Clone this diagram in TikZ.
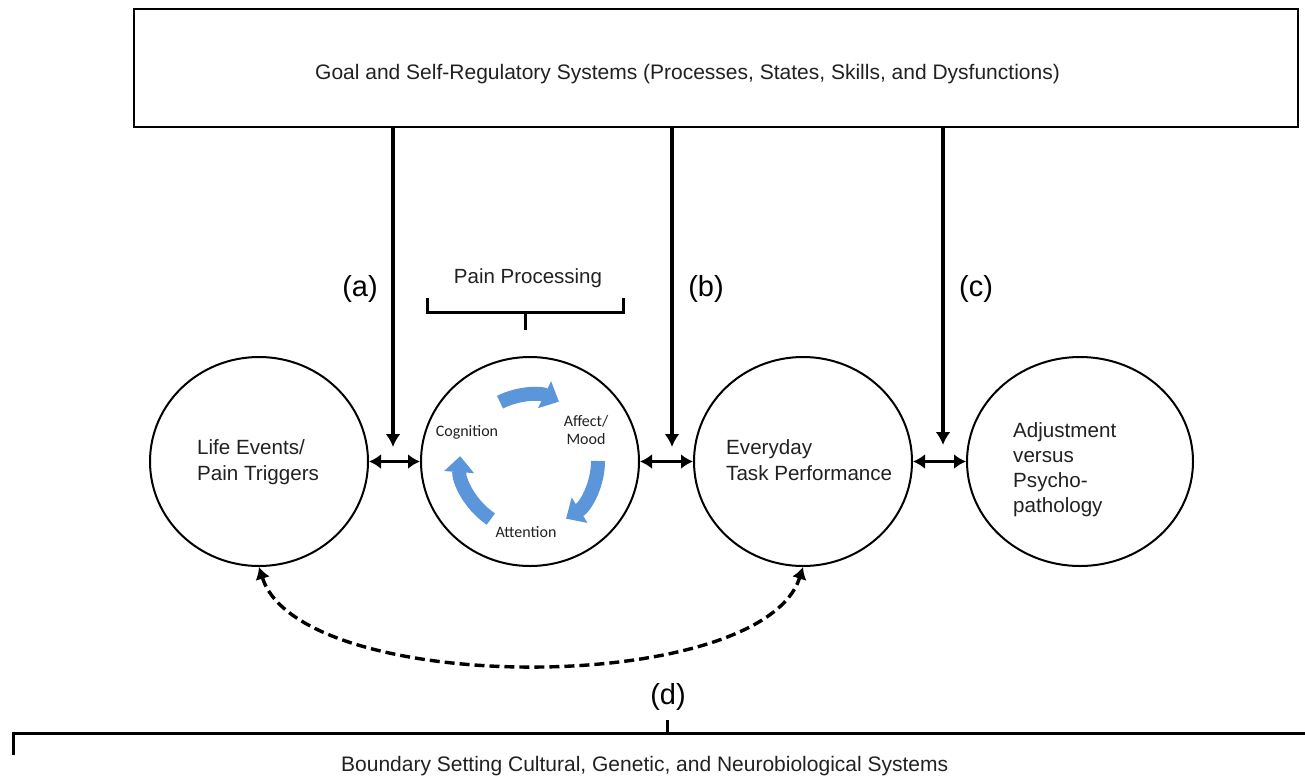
\documentclass[tikz,border=0pt]{standalone}
\usepackage{fontspec}
\setmainfont{Liberation Sans}
\newfontfamily\calib{Carlito}
\usetikzlibrary{arrows.meta,shapes.geometric}
\definecolor{txtgray}{rgb}{0.13,0.13,0.13}
\definecolor{cycblue}{RGB}{92,150,218}
\begin{document}
\begin{tikzpicture}[x=1pt,y=-1pt,
  circ/.style={draw, ellipse, line width=2pt, inner sep=0pt, minimum width=218pt, minimum height=209pt},
  bigtxt/.style={font=\fontsize{21}{25}\selectfont, text=txtgray, inner sep=0pt},
  ctxt/.style={font=\fontsize{20.6}{26}\selectfont, text=txtgray, align=left, inner sep=0pt, anchor=west},
  lab/.style={font=\fontsize{29}{32}\selectfont, inner sep=0pt},
  smalltxt/.style={font=\calib\fontsize{16}{18}\selectfont, text=txtgray, align=center, inner sep=0pt},
  varrow/.style={line width=3.2pt, -{Latex[length=13pt,width=15pt]}},
  darrow/.style={line width=3.2pt, {Latex[length=12pt,width=15pt]}-{Latex[length=12pt,width=15pt]}},
  dasharr/.style={line width=3.4pt, dash pattern=on 10pt off 5pt, {Latex[length=12pt,width=15pt]}-{Latex[length=12pt,width=15pt]}},
  brack/.style={line width=3pt},
  cyc/.style={line width=14pt, draw=cycblue, -{Triangle[length=16pt,width=29pt]}}]
\useasboundingbox (0,0) rectangle (1305,777);

% top box
\node[draw, line width=2.2pt, minimum width=1164pt, minimum height=118pt, inner sep=0pt] (goal) at (716,68) {};
\node[bigtxt, anchor=west] (goaltxt) at (315,74) {Goal and Self-Regulatory Systems (Processes, States, Skills, and Dysfunctions)};

% circles
\node[circ] (life) at (259,461.5) {};
\node[circ] (pain) at (530,461.5) {};
\node[circ] (task) at (803,461.5) {};
\node[circ, minimum width=226pt] (adj) at (1080,461.5) {};

\node[ctxt] (lifetxt) at (197,462) {Life Events/\\Pain Triggers};
\node[ctxt] (tasktxt) at (726,460) {Everyday\\Task Performance};
\node[ctxt, font=\fontsize{20.6}{25}\selectfont] (adjtxt) at (1013,470) {Adjustment\\versus\\Psycho-\\pathology};

% labels
\node[lab] (la) at (360,289) {(a)};
\node[lab] (lb) at (706,289) {(b)};
\node[lab] (lc) at (976,289) {(c)};
\node[lab] (ld) at (668,697) {(d)};

% pain processing bracket
\node[font=\fontsize{20.5}{24}\selectfont, text=txtgray, inner sep=0pt] (pp) at (528,278) {Pain Processing};
\coordinate (bl) at (427,298);
\coordinate (br) at (623,298);
\coordinate (bm) at (525,312);
\coordinate (bt) at (525,330);
\draw[brack] (bl) -- (bl |- bm) -- (br |- bm) -- (br);
\draw[brack] (bm) -- (bt);

% cycle inside pain processing
\begin{scope}[shift={(530,461)}, yscale=-1]
  \draw[cyc] (117:66) arc[start angle=117, end angle=64, radius=66];
  \draw[cyc] (0:68) arc[start angle=0, end angle=-58, radius=68];
  \draw[cyc] (236:70) arc[start angle=236, end angle=176, radius=70];
\end{scope}
\node[smalltxt] (cog) at (467,432) {Cognition};
\node[smalltxt] (aff) at (586,430) {Affect/\\Mood};
\node[smalltxt] (att) at (526,532) {Attention};

% vertical arrows
\coordinate (ta) at (393,447);
\coordinate (tb) at (672,447);
\coordinate (tc) at (943,445);
\draw[varrow] (goal.south -| ta) -- (ta);
\draw[varrow] (goal.south -| tb) -- (tb);
\draw[varrow] (goal.south -| tc) -- (tc);

% double arrows
\draw[darrow] (life.east) -- (pain.west);
\draw[darrow] (pain.east) -- (task.west);
\draw[darrow] (task.east) -- (adj.west);

% dashed arc
\draw[dasharr] (life.south) .. controls (300,697) and (762,697) .. (task.south);

% bottom bracket
\coordinate (bbl) at (13,755);
\coordinate (bbc) at (13,733);
\coordinate (bbr) at (1305,733);
\coordinate (dt) at (667,720);
\draw[brack] (bbl) -- (bbc) -- (bbr);
\draw[brack] (dt) -- (dt |- bbc);
\node[bigtxt, anchor=west] (boundtxt) at (341,766) {Boundary Setting Cultural, Genetic, and Neurobiological Systems};
\end{tikzpicture}
\end{document}
